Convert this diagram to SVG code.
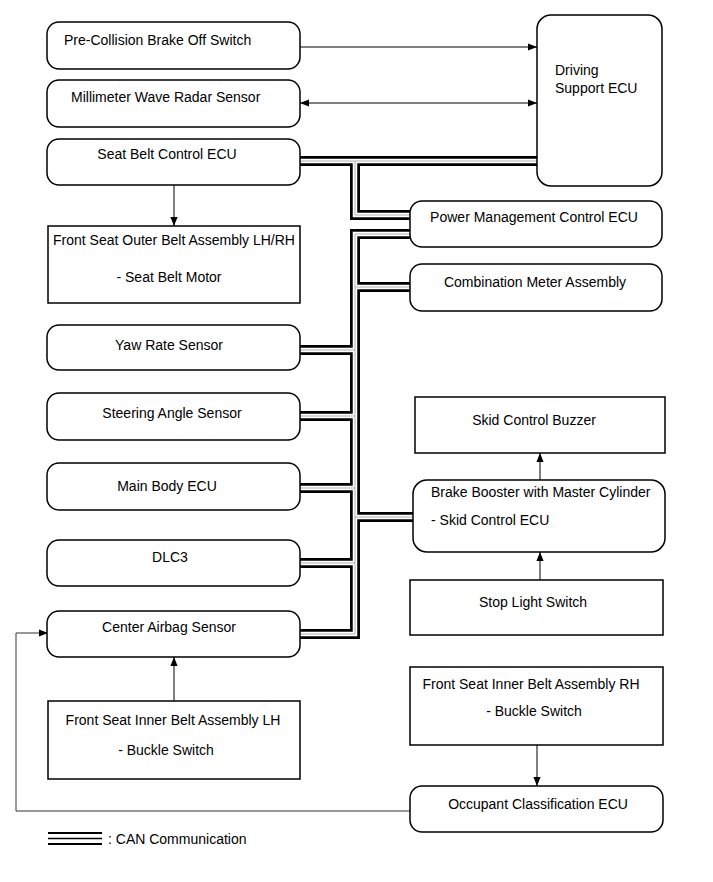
<svg xmlns="http://www.w3.org/2000/svg" xmlns:xlink="http://www.w3.org/1999/xlink" width="713" height="882" viewBox="0 0 713 882">
<style>
  .box { fill: #ffffff; stroke: #000000; stroke-width: 1.5; }
  .t { font-family: "Liberation Sans", Arial, sans-serif; font-size: 14px; fill: #000000; }
  .tc { text-anchor: middle; }
  .ln { fill: none; stroke: #000000; stroke-width: 1; }
  .fb { fill: none; stroke: #333333; stroke-width: 1; }
  .busb { fill: none; stroke: #000000; stroke-width: 10; }
  .busw { fill: none; stroke: #ffffff; stroke-width: 4.5; }
  .busg { fill: none; stroke: #b0b0b0; stroke-width: 1; }
</style>
<defs>
  <marker id="ah" viewBox="0 0 10 10" refX="10" refY="5" markerWidth="9" markerHeight="9" markerUnits="userSpaceOnUse" orient="auto-start-reverse">
    <path d="M0,1 L10,5 L0,9 Z" fill="#000000"/>
  </marker>
  <path id="busA" d="M300,161 H537 M355,161 V215 H410"/>
  <path id="busB" d="M300,634 H355 V234 H410 M300,350 H355 M300,416 H355 M300,488 H355 M300,563 H355 M355,287 H410 M355,517 H413"/>
</defs>
<rect width="713" height="882" fill="#ffffff"/>

<g id="connectors">
  <g id="can-bus">
    <use xlink:href="#busA" class="busb"/>
    <use xlink:href="#busB" class="busb"/>
    <use xlink:href="#busA" class="busw"/>
    <use xlink:href="#busB" class="busw"/>
    <use xlink:href="#busA" class="busg"/>
    <use xlink:href="#busB" class="busg"/>
  </g>
  <line class="ln" x1="300" y1="47" x2="537" y2="47" marker-end="url(#ah)"/>
  <line class="ln" x1="300" y1="103" x2="537" y2="103" marker-start="url(#ah)" marker-end="url(#ah)"/>
  <line class="ln" x1="174" y1="185" x2="174" y2="226" marker-end="url(#ah)"/>
  <line class="ln" x1="174" y1="701" x2="174" y2="657" marker-end="url(#ah)"/>
  <line class="ln" x1="540" y1="580" x2="540" y2="552" marker-end="url(#ah)"/>
  <line class="ln" x1="540" y1="480" x2="540" y2="453" marker-end="url(#ah)"/>
  <line class="ln" x1="537" y1="745" x2="537" y2="786" marker-end="url(#ah)"/>
  <polyline class="fb" points="410,811 16,811 16,633 48,633" marker-end="url(#ah)"/>
</g>

<g id="pre-collision">
  <rect class="box" x="47" y="22" width="253" height="47" rx="12"/>
  <text class="t" x="64" y="45">Pre-Collision Brake Off Switch</text>
</g>
<g id="mmw-radar">
  <rect class="box" x="47" y="80" width="253" height="47" rx="12"/>
  <text class="t" x="71" y="102">Millimeter Wave Radar Sensor</text>
</g>
<g id="seat-belt-ecu">
  <rect class="box" x="47" y="139" width="253" height="46" rx="12"/>
  <text class="t tc" x="167" y="159">Seat Belt Control ECU</text>
</g>
<g id="driving-support-ecu">
  <rect class="box" x="537" y="15" width="125" height="171" rx="14"/>
  <text class="t" x="555" y="75">Driving</text>
  <text class="t" x="555" y="93">Support ECU</text>
</g>
<g id="front-outer-belt">
  <rect class="box" x="48" y="226" width="252" height="77"/>
  <text class="t tc" x="174" y="245">Front Seat Outer Belt Assembly LH/RH</text>
  <text class="t tc" x="169" y="282">- Seat Belt Motor</text>
</g>
<g id="power-mgmt-ecu">
  <rect class="box" x="410" y="201" width="252" height="46" rx="12"/>
  <text class="t tc" x="534" y="222">Power Management Control ECU</text>
</g>
<g id="combination-meter">
  <rect class="box" x="410" y="264" width="252" height="47" rx="12"/>
  <text class="t tc" x="535" y="287">Combination Meter Assembly</text>
</g>
<g id="yaw-rate">
  <rect class="box" x="47" y="325" width="253" height="45" rx="12"/>
  <text class="t tc" x="169" y="350">Yaw Rate Sensor</text>
</g>
<g id="steering-angle">
  <rect class="box" x="47" y="393" width="253" height="47" rx="12"/>
  <text class="t tc" x="172" y="418">Steering Angle Sensor</text>
</g>
<g id="main-body-ecu">
  <rect class="box" x="47" y="463" width="253" height="47" rx="12"/>
  <text class="t tc" x="167" y="491">Main Body ECU</text>
</g>
<g id="dlc3">
  <rect class="box" x="47" y="540" width="253" height="46" rx="12"/>
  <text class="t tc" x="170" y="562">DLC3</text>
</g>
<g id="center-airbag">
  <rect class="box" x="47" y="611" width="253" height="46" rx="12"/>
  <text class="t tc" x="169" y="632">Center Airbag Sensor</text>
</g>
<g id="front-inner-belt-lh">
  <rect class="box" x="48" y="701" width="252" height="78"/>
  <text class="t tc" x="173" y="725">Front Seat Inner Belt Assembly LH</text>
  <text class="t tc" x="166" y="755">- Buckle Switch</text>
</g>
<g id="skid-control-buzzer">
  <rect class="box" x="415" y="397" width="250" height="56"/>
  <text class="t tc" x="534" y="425">Skid Control Buzzer</text>
</g>
<g id="brake-booster">
  <rect class="box" x="413" y="480" width="252" height="72" rx="14"/>
  <text class="t" x="431" y="497">Brake Booster with Master Cylinder</text>
  <text class="t" x="431" y="525">- Skid Control ECU</text>
</g>
<g id="stop-light-switch">
  <rect class="box" x="410" y="580" width="253" height="55"/>
  <text class="t tc" x="533" y="607">Stop Light Switch</text>
</g>
<g id="front-inner-belt-rh">
  <rect class="box" x="410" y="667" width="253" height="78"/>
  <text class="t tc" x="531" y="689">Front Seat Inner Belt Assembly RH</text>
  <text class="t tc" x="534" y="716">- Buckle Switch</text>
</g>
<g id="occupant-classification-ecu">
  <rect class="box" x="410" y="786" width="253" height="46" rx="12"/>
  <text class="t tc" x="538" y="809">Occupant Classification ECU</text>
</g>

<g id="legend">
  <line x1="48" y1="833" x2="102" y2="833" stroke="#000000" stroke-width="2"/>
  <line x1="48" y1="838.5" x2="102" y2="838.5" stroke="#000000" stroke-width="1.5"/>
  <line x1="48" y1="844" x2="102" y2="844" stroke="#000000" stroke-width="2"/>
  <text class="t" x="108" y="844">: CAN Communication</text>
</g>
</svg>
